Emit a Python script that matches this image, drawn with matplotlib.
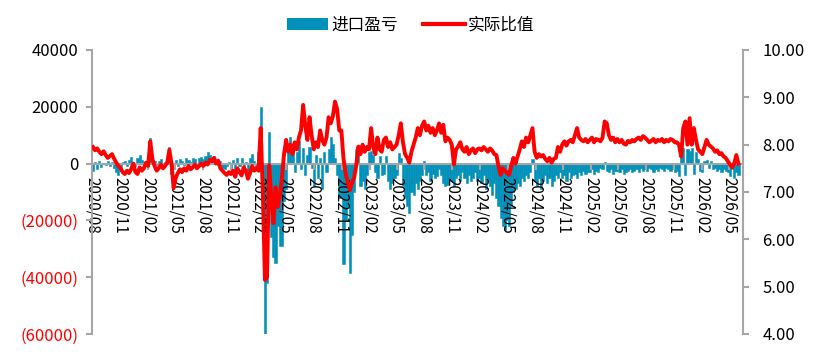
import pandas as pd
import matplotlib
matplotlib.use("Agg")
import matplotlib.pyplot as plt
import matplotlib.dates as mdates
from matplotlib.patches import Patch
from matplotlib.lines import Line2D

plt.rcParams['font.family'] = ['Noto Sans CJK SC', 'DejaVu Sans']

BLUE = '#0091BA'
RED = '#FF0000'
GRAY = '#A6A6A6'

# weekly values, one row per quarter (2020/08 ... 2026/05)
start_date = '2020-08-03'
import_profit = [
    -2500, 500, -1800, 800, -1200, 300, -600, 900, -800, 400, -1500, -2800, -4000,
    -1500, 600, 1000, -800, 1200, 2400, 500, -1000, 1800, 3000, 1200, -600, 500,
    1000, 8900, 2500, 1000, -500, 800, 1500, -1000, 600, 1200, 5700, -3500, -1500,
    1200, -800, 1500, 1000, -500, 1800, 1200, 600, 2000, 1500, -600, 1800, 2200,
    1500, 2800, 4200, 3000, 1500, 2500, 800, -500, 1000, -1500, -2000, -800, 600,
    -1500, 1200, -2200, 2000, -800, 1900, -1500, 500, -2500, 1800, 3500, 1000, -1200,
    4000, 19800, -20000, -60000, -42000, 11200, -26000, -33000, -35000, -22000, -29000, -29000, -13000,
    -9000, 7000, 9500, 6000, -3000, 4000, 8000, -2000, 5500, -4000, 3000, 6000, -1500,
    -8000, 3000, -5000, 2000, -9000, 4000, -3000, 5000, 9500, 7000, 2000, -4000, -12000,
    -12000, -35500, -20000, -15000, -38500, -25000, -10000, 5000, 6000, -8000, -6000, -9000, -4000,
    4000, 4500, 3000, -3000, -5000, 2500, -4000, -3500, 2500, -6000, -9000, -7000, -5000,
    -4000, 3700, 2000, -8000, -12000, -15000, -17400, -10000, -11000, -7000, -9000, -6000, -4000,
    1000, -4000, -3000, -6000, -3500, -5000, -4500, -2000, -4000, -7000, -8000, -7500, -6000,
    -6000, -8000, -5000, -4000, -6000, -3000, -5000, -7000, -4000, -6000, -5000, -3000, -6000,
    -5000, -7000, -4000, -9000, -6000, -8000, -11000, -7000, -12000, -15000, -19000, -22000, -23500,
    -20000, -22000, -15000, -10000, -9000, -7000, -8000, -5000, -6000, -4000, -5000, -3000, 1500,
    -6000, -8000, -5000, -9000, -6000, -4000, -7000, -5000, -8000, -6000, -4000, -5000, -3000,
    -5000, -4000, -6000, -3000, -5000, -4000, -3500, -5000, -3000, -4000, -2500, -3500, -3000,
    -3000, -2000, -3500, -2500, -3000, -1500, -2000, 500, -2500, -3000, -2000, -3500, -2500,
    -2500, -3000, -2000, -3500, -3000, -2500, -2000, -3000, -2500, -2000, -3000, -1500, -2500,
    -2000, -2500, -1500, -2000, -3000, -2000, -2500, -1500, -2000, -2500, -1500, -2000, -2500,
    -2000, -3000, -2500, -4500, 3700, 5500, -4000, 5000, 4500, 5500, -3500, 4000, 1500,
    -2500, -3000, 1000, 1200, -1500, 800, -2000, -1500, -2500, -2000, -3000, -2000, -2500,
    -3000, -4500, -2000, -5000, -3000, -4000,
]
actual_ratio = [
    7.95, 7.88, 7.92, 7.85, 7.80, 7.86, 7.78, 7.72, 7.76, 7.80, 7.70, 7.62, 7.55,
    7.50, 7.42, 7.38, 7.45, 7.40, 7.48, 7.60, 7.42, 7.38, 7.52, 7.45, 7.50, 7.62,
    7.55, 8.07, 7.70, 7.55, 7.45, 7.50, 7.58, 7.50, 7.55, 7.62, 7.89, 7.60, 7.08,
    7.30, 7.40, 7.48, 7.42, 7.50, 7.45, 7.55, 7.48, 7.52, 7.58, 7.50, 7.55, 7.60,
    7.55, 7.62, 7.58, 7.68, 7.65, 7.72, 7.60, 7.66, 7.50, 7.45, 7.40, 7.36, 7.42,
    7.38, 7.45, 7.32, 7.50, 7.42, 7.35, 7.52, 7.45, 7.28, 7.40, 7.55, 7.45, 7.50,
    7.45, 8.35, 7.00, 5.14, 5.20, 7.57, 6.90, 6.34, 7.10, 6.68, 6.90, 7.30, 7.80,
    8.10, 7.85, 8.00, 7.80, 8.05, 7.90, 8.15, 8.30, 8.84, 8.40, 8.10, 8.58, 8.20,
    7.90, 8.05, 7.95, 8.30, 8.10, 8.00, 8.15, 8.58, 8.45, 8.60, 8.91, 8.75, 8.30,
    8.30, 7.70, 7.40, 7.20, 7.04, 7.20, 7.30, 7.55, 7.96, 7.80, 8.00, 7.85, 7.95,
    7.90, 8.35, 7.95, 7.80, 8.15, 7.90, 7.85, 8.10, 8.15, 7.95, 8.05, 7.90, 7.95,
    8.00, 8.20, 8.45, 8.05, 7.80, 7.72, 7.62, 7.85, 8.00, 8.15, 8.35, 8.20, 8.40,
    8.49, 8.30, 8.40, 8.25, 8.35, 8.20, 8.30, 8.45, 8.25, 8.42, 8.07, 8.15, 8.10,
    8.00, 7.58, 7.90, 7.96, 8.05, 7.90, 7.85, 7.95, 7.80, 7.88, 7.92, 7.82, 7.90,
    7.92, 7.88, 7.95, 7.90, 7.85, 7.92, 7.88, 7.80, 7.78, 7.55, 7.36, 7.50, 7.45,
    7.40, 7.36, 7.55, 7.72, 7.60, 7.75, 7.90, 8.07, 7.95, 8.15, 8.05, 8.20, 8.35,
    7.85, 7.72, 7.80, 7.75, 7.78, 7.70, 7.65, 7.72, 7.62, 7.70, 7.72, 7.95, 7.85,
    8.00, 8.07, 7.98, 8.07, 8.10, 8.05, 8.20, 8.35, 8.15, 8.10, 8.07, 8.12, 8.05,
    8.10, 8.15, 8.05, 8.12, 8.10, 8.07, 8.15, 8.49, 8.45, 8.20, 8.10, 8.15, 8.05,
    8.12, 8.05, 8.10, 8.02, 8.00, 8.08, 8.05, 8.10, 8.07, 8.12, 8.15, 8.10, 8.18,
    8.15, 8.10, 8.05, 8.08, 8.12, 8.05, 8.10, 8.08, 8.12, 8.05, 8.10, 8.07, 8.12,
    8.10, 8.05, 8.05, 8.00, 7.75, 8.35, 8.49, 8.00, 8.56, 8.00, 8.35, 8.10, 7.90,
    7.85, 7.80, 7.95, 8.10, 8.00, 7.96, 7.92, 7.85, 7.88, 7.80, 7.82, 7.75, 7.72,
    7.65, 7.58, 7.52, 7.60, 7.78, 7.60,
]
left_ticks = [40000, 20000, 0, -20000, -40000, -60000]
right_ticks = [4, 5, 6, 7, 8, 9, 10]
series_names = ['进口盈亏', '实际比值']

dates = pd.date_range(start_date, periods=len(import_profit), freq='7D')

fig = plt.figure(figsize=(8.18, 3.63), dpi=100)
ax = fig.add_axes([0.1125, 0.0799, 0.7958, 0.7824])
ax.bar(dates, import_profit, width=7, color=BLUE, edgecolor=BLUE, linewidth=0.4)
ax.set_ylim(-60000, 40000)
ax.set_xlim(pd.Timestamp('2020-07-31'), pd.Timestamp('2026-06-16'))
ax.set_yticks(left_ticks)
ax.set_yticklabels([f'({-v})' if v < 0 else str(v) for v in left_ticks])
for lab, v in zip(ax.get_yticklabels(), left_ticks):
    lab.set_color(RED if v < 0 else 'black')

ax.xaxis.set_major_locator(mdates.MonthLocator(bymonth=[2, 5, 8, 11]))
ax.xaxis.set_major_formatter(mdates.DateFormatter('%Y/%m'))
ax.spines['bottom'].set_position(('data', 0))
for s in ['top', 'right']:
    ax.spines[s].set_visible(False)
for s in ['left', 'bottom']:
    ax.spines[s].set_color(GRAY)
    ax.spines[s].set_linewidth(1.5)
ax.tick_params(axis='y', color=GRAY, width=1.5, length=4, labelsize=12, pad=6)
ax.tick_params(axis='x', color=GRAY, width=1.5, length=4, labelsize=11, pad=6)
plt.setp(ax.get_xticklabels(), rotation=-90, ha='center', va='top')

ax2 = ax.twinx()
ax2.plot(dates, actual_ratio, color=RED, linewidth=2.8)
ax2.set_ylim(4, 10)
ax2.set_yticks(right_ticks)
ax2.set_yticklabels([f'{v:.2f}' for v in right_ticks])
for s in ['top', 'left', 'bottom']:
    ax2.spines[s].set_visible(False)
ax2.spines['right'].set_color(GRAY)
ax2.spines['right'].set_linewidth(1.5)
ax2.tick_params(axis='y', color=GRAY, width=1.5, length=4, labelsize=12, pad=10)

handles = [Patch(facecolor=BLUE, label=series_names[0]),
           Line2D([], [], color=RED, linewidth=3, label=series_names[1])]
fig.legend(handles=handles, loc='center', bbox_to_anchor=(0.502, 0.931), ncol=2,
           frameon=False, fontsize=12, handlelength=2.5, handletextpad=0.2,
           columnspacing=1.5)

fig.savefig('out.png', dpi=100)
